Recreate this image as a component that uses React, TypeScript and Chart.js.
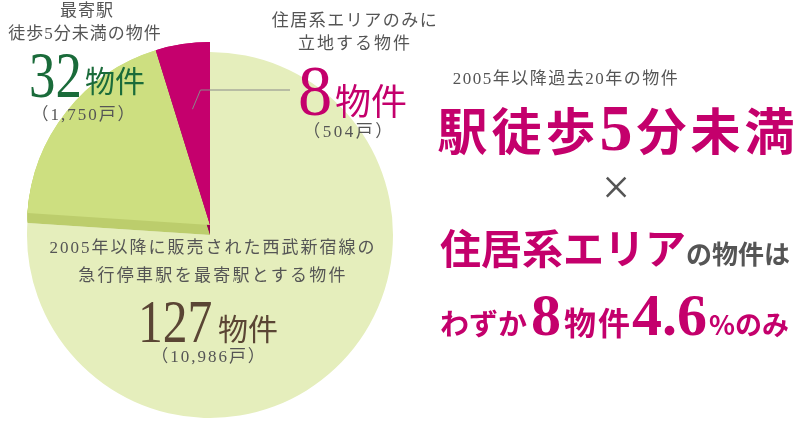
import React, { useEffect, useRef } from "react";
import { Chart, registerables } from "chart.js";

Chart.register(...registerables);

// ---- data ----
const categories = [
  "2005年以降に販売された西武新宿線の急行停車駅を最寄駅とする物件",
  "最寄駅徒歩5分未満の物件",
  "住居系エリアのみに立地する物件",
];
const propertyCounts = [127, 32, 8];
const unitCounts = ["10,986", "1,750", "504"];
const sliceColors = ["#e5eebc", "#cddf80", "#c5006d"];
const sideColors = ["", "#bccd6c", "#98004f"];
const explodedSlices = [false, true, true];

const LIFT = 10;
const LEADER_Y = 90;
const LEADER_END_X = 290;

const CJK = "'Noto Sans CJK JP', sans-serif";
const SERIF = "'Liberation Serif', 'DejaVu Serif', serif";
const MIXED = "'Liberation Serif', 'Noto Sans CJK JP', serif";
const GREY = "#555555";
const MAGENTA = "#c4006c";
const GREEN = "#1a6b3a";
const BROWN = "#5a4534";

const explodePlugin = {
  id: "explode",
  afterDatasetsUpdate(chart: any) {
    const meta = chart.getDatasetMeta(0);
    meta.data.forEach((el: any, i: number) => {
      if (explodedSlices[i]) el.y -= LIFT;
    });
  },
  afterDatasetsDraw(chart: any) {
    const ctx = chart.ctx;
    const meta = chart.getDatasetMeta(0);
    // extruded sides
    meta.data.forEach((el: any, i: number) => {
      if (!explodedSlices[i]) return;
      const { x, y, startAngle, endAngle, outerRadius } = el;
      ctx.save();
      ctx.fillStyle = sideColors[i];
      for (let s = 1; s <= LIFT; s++) {
        ctx.beginPath();
        ctx.moveTo(x, y + s);
        ctx.arc(x, y + s, outerRadius, startAngle, endAngle);
        ctx.closePath();
        ctx.fill();
      }
      ctx.restore();
    });
    // top faces again
    meta.data.forEach((el: any, i: number) => {
      if (explodedSlices[i]) el.draw(ctx);
    });
    // leader line for the smallest slice
    const el = meta.data[2];
    const mid = (el.startAngle + el.endAngle) / 2;
    const px = el.x + Math.cos(mid) * el.outerRadius * 0.64;
    const py = el.y + Math.sin(mid) * el.outerRadius * 0.64;
    ctx.save();
    ctx.strokeStyle = "#8a8a8a";
    ctx.lineWidth = 1;
    ctx.beginPath();
    ctx.moveTo(px, py);
    ctx.lineTo(px + 8, LEADER_Y);
    ctx.lineTo(LEADER_END_X, LEADER_Y);
    ctx.stroke();
    ctx.restore();
  },
};

const abs = (extra: React.CSSProperties): React.CSSProperties => ({
  position: "absolute",
  whiteSpace: "nowrap",
  lineHeight: 1,
  margin: 0,
  ...extra,
});

const centered = (cx: number, top: number, extra: React.CSSProperties = {}): React.CSSProperties =>
  abs({ left: cx - 200, width: 400, textAlign: "center", top, ...extra });

export default function App() {
  const canvasRef = useRef<HTMLCanvasElement | null>(null);

  useEffect(() => {
    if (!canvasRef.current) return;
    const chart = new Chart(canvasRef.current, {
      type: "pie",
      data: {
        labels: categories,
        datasets: [
          {
            data: propertyCounts,
            backgroundColor: sliceColors,
            borderWidth: 0,
            offset: 0,
            hoverOffset: 0,
          } as any,
        ],
      },
      options: {
        responsive: false,
        animation: false,
        events: [],
        rotation: 0,
        layout: { padding: { left: 27, right: 407, top: 52, bottom: 3 } },
        plugins: {
          legend: { display: false },
          tooltip: { enabled: false },
        },
      },
      plugins: [explodePlugin],
    });
    return () => chart.destroy();
  }, []);

  return (
    <div
      style={{
        position: "absolute",
        left: 0,
        top: 0,
        width: 800,
        height: 421,
        background: "#ffffff",
        overflow: "hidden",
        fontFamily: CJK,
      }}
    >
      <canvas ref={canvasRef} width={800} height={421} style={{ position: "absolute", left: 0, top: 0 }} />

      {/* 32 slice label */}
      <div style={centered(87, 0, { fontSize: 17, color: GREY, letterSpacing: 1 })}>最寄駅</div>
      <div style={centered(85, 25, { fontSize: 17, color: GREY, letterSpacing: 1, fontFamily: MIXED })}>徒歩5分未満の物件</div>
      <div style={abs({ left: 29, top: 42, fontSize: 66, fontFamily: SERIF, color: GREEN, transform: "scaleX(0.8)", transformOrigin: "left top" })}>
        {propertyCounts[1]}
      </div>
      <div style={abs({ left: 85, top: 64, fontSize: 30, color: GREEN })}>物件</div>
      <div style={centered(84, 106, { fontSize: 17, color: GREY, letterSpacing: 2, fontFamily: MIXED })}>（{unitCounts[1]}戸）</div>

      {/* 8 slice label */}
      <div style={centered(355, 10, { fontSize: 17, color: GREY, letterSpacing: 1.5 })}>住居系エリアのみに</div>
      <div style={centered(355, 33, { fontSize: 17, color: GREY, letterSpacing: 2 })}>立地する物件</div>
      <div style={abs({ left: 298, top: 55, fontSize: 72, fontFamily: SERIF, color: MAGENTA, transform: "scaleX(0.95)", transformOrigin: "left top" })}>
        {propertyCounts[2]}
      </div>
      <div style={abs({ left: 335, top: 81, fontSize: 36, color: MAGENTA })}>物件</div>
      <div style={centered(349, 123, { fontSize: 17, color: GREY, letterSpacing: 2.5, fontFamily: MIXED })}>（{unitCounts[2]}戸）</div>

      {/* 127 slice label */}
      <div style={centered(213, 239, { fontSize: 17, color: GREY, letterSpacing: 2, fontFamily: MIXED })}>2005年以降に販売された西武新宿線の</div>
      <div style={centered(213, 265, { fontSize: 17, color: GREY, letterSpacing: 2.3 })}>急行停車駅を最寄駅とする物件</div>
      <div style={abs({ left: 138, top: 290, fontSize: 62, fontFamily: SERIF, color: BROWN, transform: "scaleX(0.8)", transformOrigin: "left top" })}>
        {propertyCounts[0]}
      </div>
      <div style={abs({ left: 218, top: 312, fontSize: 30, color: BROWN })}>物件</div>
      <div style={centered(209, 348, { fontSize: 17, color: GREY, letterSpacing: 2, fontFamily: MIXED })}>（{unitCounts[0]}戸）</div>

      {/* right side headline */}
      <div style={centered(566, 70, { fontSize: 17, color: GREY, fontFamily: MIXED, letterSpacing: 1.5 })}>2005年以降過去20年の物件</div>
      <div style={centered(618, 95, { fontSize: 50, color: MAGENTA, fontWeight: 700, letterSpacing: 4 })}>
        駅徒歩<span style={{ fontFamily: SERIF, fontSize: 66 }}>5</span>分未満
      </div>
      <div style={centered(616, 162, { fontSize: 50, color: GREY, fontFamily: SERIF })}>×</div>
      <div style={abs({ left: 440, top: 226, color: MAGENTA, fontWeight: 700 })}>
        <span style={{ fontSize: 41 }}>住居系エリア</span>
        <span style={{ fontSize: 26, color: GREY }}>の物件は</span>
      </div>
      <div style={abs({ left: 440, top: 285, color: MAGENTA, fontWeight: 700 })}>
        <span style={{ fontSize: 29 }}>わずか</span>
        <span style={{ fontSize: 60, fontFamily: SERIF, margin: "0 3px 0 4px" }}>8</span>
        <span style={{ fontSize: 32, letterSpacing: 2 }}>物件</span>
        <span style={{ fontSize: 60, fontFamily: SERIF }}>4.6</span>
        <span style={{ fontSize: 27, marginLeft: 2 }}>%のみ</span>
      </div>
    </div>
  );
}
